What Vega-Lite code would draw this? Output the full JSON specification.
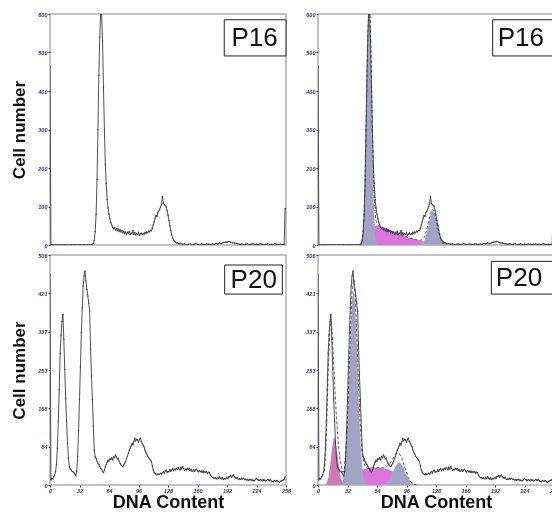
{
"$schema": "https://vega.github.io/schema/vega-lite/v6.json",
"background": "white",
"padding": {"left": 10, "top": 11, "right": 0, "bottom": 0},
"spacing": 2,
"datasets": {
"p16": [{"ch":0,"n":465},{"ch":1,"n":1},{"ch":3,"n":0},{"ch":5,"n":1},{"ch":7,"n":0},{"ch":9,"n":1},{"ch":11,"n":0},{"ch":13,"n":1},{"ch":15,"n":0},{"ch":17,"n":1},{"ch":19,"n":0},{"ch":21,"n":0},{"ch":23,"n":1},{"ch":25,"n":0},{"ch":27,"n":1},{"ch":29,"n":0},{"ch":31,"n":0},{"ch":33,"n":1},{"ch":35,"n":0},{"ch":37,"n":1},{"ch":39,"n":0},{"ch":41,"n":1},{"ch":43,"n":0},{"ch":45,"n":1},{"ch":46,"n":2},{"ch":47,"n":4},{"ch":48,"n":12},{"ch":49,"n":35},{"ch":50,"n":80},{"ch":51,"n":170},{"ch":52,"n":300},{"ch":53,"n":440},{"ch":54,"n":540},{"ch":55,"n":610},{"ch":56,"n":600},{"ch":57,"n":530},{"ch":58,"n":410},{"ch":59,"n":300},{"ch":60,"n":210},{"ch":61,"n":160},{"ch":62,"n":118},{"ch":63,"n":96},{"ch":64,"n":80},{"ch":65,"n":68},{"ch":66,"n":58},{"ch":67,"n":52},{"ch":68,"n":46},{"ch":69,"n":42},{"ch":70,"n":45},{"ch":71,"n":39},{"ch":72,"n":43},{"ch":73,"n":37},{"ch":74,"n":42},{"ch":75,"n":35},{"ch":76,"n":40},{"ch":77,"n":34},{"ch":78,"n":38},{"ch":79,"n":31},{"ch":80,"n":36},{"ch":81,"n":30},{"ch":82,"n":34},{"ch":83,"n":28},{"ch":84,"n":33},{"ch":85,"n":29},{"ch":86,"n":36},{"ch":87,"n":27},{"ch":88,"n":31},{"ch":89,"n":29},{"ch":90,"n":38},{"ch":91,"n":27},{"ch":92,"n":32},{"ch":93,"n":26},{"ch":94,"n":30},{"ch":95,"n":27},{"ch":96,"n":33},{"ch":97,"n":25},{"ch":98,"n":29},{"ch":99,"n":31},{"ch":100,"n":27},{"ch":101,"n":30},{"ch":102,"n":28},{"ch":103,"n":33},{"ch":104,"n":30},{"ch":105,"n":34},{"ch":106,"n":32},{"ch":107,"n":36},{"ch":108,"n":34},{"ch":109,"n":38},{"ch":110,"n":37},{"ch":111,"n":43},{"ch":112,"n":52},{"ch":113,"n":60},{"ch":114,"n":70},{"ch":115,"n":77},{"ch":116,"n":74},{"ch":117,"n":84},{"ch":118,"n":88},{"ch":119,"n":93},{"ch":120,"n":99},{"ch":121,"n":106},{"ch":122,"n":126},{"ch":123,"n":108},{"ch":124,"n":105},{"ch":125,"n":103},{"ch":126,"n":99},{"ch":127,"n":90},{"ch":128,"n":78},{"ch":129,"n":64},{"ch":130,"n":50},{"ch":131,"n":38},{"ch":132,"n":27},{"ch":133,"n":19},{"ch":134,"n":13},{"ch":135,"n":10},{"ch":136,"n":8},{"ch":137,"n":5},{"ch":138,"n":6},{"ch":139,"n":4},{"ch":140,"n":3},{"ch":142,"n":4},{"ch":144,"n":2},{"ch":146,"n":3},{"ch":148,"n":1},{"ch":150,"n":2},{"ch":152,"n":3},{"ch":154,"n":1},{"ch":156,"n":2},{"ch":158,"n":4},{"ch":160,"n":2},{"ch":162,"n":1},{"ch":164,"n":3},{"ch":166,"n":2},{"ch":168,"n":1},{"ch":170,"n":3},{"ch":172,"n":2},{"ch":174,"n":1},{"ch":176,"n":3},{"ch":178,"n":2},{"ch":180,"n":4},{"ch":182,"n":3},{"ch":184,"n":5},{"ch":186,"n":4},{"ch":188,"n":6},{"ch":190,"n":7},{"ch":192,"n":8},{"ch":194,"n":9},{"ch":196,"n":7},{"ch":198,"n":6},{"ch":200,"n":5},{"ch":202,"n":4},{"ch":204,"n":3},{"ch":206,"n":2},{"ch":208,"n":3},{"ch":210,"n":1},{"ch":212,"n":2},{"ch":214,"n":3},{"ch":216,"n":1},{"ch":218,"n":2},{"ch":220,"n":3},{"ch":222,"n":1},{"ch":224,"n":2},{"ch":226,"n":1},{"ch":228,"n":3},{"ch":230,"n":2},{"ch":232,"n":1},{"ch":234,"n":2},{"ch":236,"n":3},{"ch":238,"n":1},{"ch":240,"n":2},{"ch":242,"n":1},{"ch":244,"n":3},{"ch":246,"n":2},{"ch":248,"n":1},{"ch":250,"n":2},{"ch":252,"n":1},{"ch":254,"n":2},{"ch":255,"n":95}],
"p20": [{"ch":0,"n":464},{"ch":1,"n":11},{"ch":2,"n":15},{"ch":3,"n":13},{"ch":4,"n":18},{"ch":5,"n":22},{"ch":6,"n":29},{"ch":7,"n":45},{"ch":8,"n":81},{"ch":9,"n":140},{"ch":10,"n":210},{"ch":11,"n":290},{"ch":12,"n":330},{"ch":13,"n":360},{"ch":14,"n":376},{"ch":15,"n":320},{"ch":16,"n":254},{"ch":17,"n":190},{"ch":18,"n":140},{"ch":19,"n":92},{"ch":20,"n":60},{"ch":21,"n":40},{"ch":22,"n":35},{"ch":23,"n":33},{"ch":24,"n":30},{"ch":25,"n":29},{"ch":26,"n":27},{"ch":27,"n":24},{"ch":28,"n":20},{"ch":29,"n":30},{"ch":30,"n":63},{"ch":31,"n":120},{"ch":32,"n":188},{"ch":33,"n":260},{"ch":34,"n":335},{"ch":35,"n":390},{"ch":36,"n":438},{"ch":37,"n":460},{"ch":38,"n":471},{"ch":39,"n":449},{"ch":40,"n":430},{"ch":41,"n":416},{"ch":42,"n":400},{"ch":43,"n":383},{"ch":44,"n":300},{"ch":45,"n":240},{"ch":46,"n":188},{"ch":47,"n":130},{"ch":48,"n":77},{"ch":49,"n":62},{"ch":50,"n":59},{"ch":51,"n":52},{"ch":52,"n":48},{"ch":53,"n":45},{"ch":54,"n":41},{"ch":55,"n":37},{"ch":56,"n":34},{"ch":57,"n":30},{"ch":58,"n":27},{"ch":59,"n":33},{"ch":60,"n":40},{"ch":61,"n":45},{"ch":62,"n":50},{"ch":63,"n":55},{"ch":64,"n":52},{"ch":65,"n":58},{"ch":66,"n":56},{"ch":67,"n":60},{"ch":68,"n":55},{"ch":69,"n":63},{"ch":70,"n":60},{"ch":71,"n":66},{"ch":72,"n":62},{"ch":73,"n":57},{"ch":74,"n":59},{"ch":75,"n":52},{"ch":76,"n":48},{"ch":77,"n":44},{"ch":78,"n":42},{"ch":79,"n":40},{"ch":80,"n":44},{"ch":81,"n":48},{"ch":82,"n":52},{"ch":83,"n":58},{"ch":84,"n":63},{"ch":85,"n":70},{"ch":86,"n":76},{"ch":87,"n":81},{"ch":88,"n":86},{"ch":89,"n":92},{"ch":90,"n":88},{"ch":91,"n":96},{"ch":92,"n":103},{"ch":93,"n":97},{"ch":94,"n":101},{"ch":95,"n":99},{"ch":96,"n":94},{"ch":97,"n":100},{"ch":98,"n":103},{"ch":99,"n":96},{"ch":100,"n":92},{"ch":101,"n":88},{"ch":102,"n":84},{"ch":103,"n":77},{"ch":104,"n":72},{"ch":105,"n":68},{"ch":106,"n":63},{"ch":107,"n":60},{"ch":108,"n":58},{"ch":109,"n":55},{"ch":110,"n":52},{"ch":111,"n":42},{"ch":112,"n":33},{"ch":113,"n":28},{"ch":114,"n":25},{"ch":115,"n":24},{"ch":116,"n":22},{"ch":117,"n":25},{"ch":118,"n":23},{"ch":119,"n":24},{"ch":120,"n":26},{"ch":121,"n":24},{"ch":122,"n":27},{"ch":123,"n":30},{"ch":124,"n":26},{"ch":125,"n":31},{"ch":126,"n":33},{"ch":127,"n":28},{"ch":128,"n":30},{"ch":129,"n":29},{"ch":130,"n":34},{"ch":131,"n":30},{"ch":132,"n":33},{"ch":133,"n":36},{"ch":134,"n":31},{"ch":135,"n":35},{"ch":136,"n":33},{"ch":137,"n":37},{"ch":138,"n":34},{"ch":139,"n":38},{"ch":140,"n":36},{"ch":141,"n":33},{"ch":142,"n":39},{"ch":143,"n":35},{"ch":144,"n":40},{"ch":145,"n":36},{"ch":146,"n":32},{"ch":147,"n":35},{"ch":148,"n":33},{"ch":149,"n":37},{"ch":150,"n":34},{"ch":151,"n":37},{"ch":152,"n":32},{"ch":153,"n":35},{"ch":154,"n":30},{"ch":155,"n":31},{"ch":156,"n":34},{"ch":157,"n":30},{"ch":158,"n":33},{"ch":159,"n":35},{"ch":160,"n":31},{"ch":161,"n":29},{"ch":162,"n":32},{"ch":163,"n":29},{"ch":164,"n":31},{"ch":165,"n":28},{"ch":166,"n":31},{"ch":167,"n":27},{"ch":168,"n":30},{"ch":169,"n":28},{"ch":170,"n":29},{"ch":171,"n":26},{"ch":172,"n":28},{"ch":173,"n":27},{"ch":174,"n":22},{"ch":175,"n":19},{"ch":176,"n":16},{"ch":177,"n":17},{"ch":178,"n":14},{"ch":179,"n":16},{"ch":180,"n":15},{"ch":181,"n":13},{"ch":182,"n":17},{"ch":183,"n":14},{"ch":184,"n":18},{"ch":185,"n":15},{"ch":186,"n":13},{"ch":187,"n":16},{"ch":188,"n":12},{"ch":189,"n":14},{"ch":190,"n":13},{"ch":191,"n":15},{"ch":192,"n":17},{"ch":193,"n":14},{"ch":194,"n":19},{"ch":195,"n":18},{"ch":196,"n":21},{"ch":197,"n":17},{"ch":198,"n":20},{"ch":199,"n":22},{"ch":200,"n":18},{"ch":201,"n":16},{"ch":202,"n":15},{"ch":203,"n":17},{"ch":204,"n":13},{"ch":205,"n":12},{"ch":206,"n":14},{"ch":207,"n":12},{"ch":208,"n":15},{"ch":209,"n":13},{"ch":210,"n":15},{"ch":211,"n":12},{"ch":212,"n":13},{"ch":213,"n":11},{"ch":214,"n":12},{"ch":215,"n":10},{"ch":216,"n":12},{"ch":217,"n":11},{"ch":218,"n":13},{"ch":219,"n":10},{"ch":220,"n":11},{"ch":221,"n":9},{"ch":222,"n":10},{"ch":223,"n":13},{"ch":224,"n":14},{"ch":225,"n":12},{"ch":226,"n":11},{"ch":227,"n":10},{"ch":228,"n":12},{"ch":229,"n":11},{"ch":230,"n":9},{"ch":231,"n":12},{"ch":232,"n":10},{"ch":233,"n":11},{"ch":234,"n":9},{"ch":235,"n":10},{"ch":236,"n":12},{"ch":237,"n":11},{"ch":238,"n":10},{"ch":239,"n":12},{"ch":240,"n":9},{"ch":241,"n":8},{"ch":242,"n":7},{"ch":243,"n":9},{"ch":244,"n":10},{"ch":245,"n":8},{"ch":246,"n":10},{"ch":247,"n":9},{"ch":248,"n":7},{"ch":249,"n":6},{"ch":250,"n":8},{"ch":251,"n":9},{"ch":252,"n":10},{"ch":253,"n":11},{"ch":254,"n":12},{"ch":255,"n":18}],
"c16": [{"comp":"S","ch":48,"v":0},{"comp":"S","ch":49,"v":1},{"comp":"S","ch":50,"v":3},{"comp":"S","ch":51,"v":6},{"comp":"S","ch":52,"v":10},{"comp":"S","ch":53,"v":15},{"comp":"S","ch":54,"v":20},{"comp":"S","ch":55,"v":25},{"comp":"S","ch":56,"v":30},{"comp":"S","ch":57,"v":34},{"comp":"S","ch":58,"v":38},{"comp":"S","ch":59,"v":42},{"comp":"S","ch":60,"v":45},{"comp":"S","ch":61,"v":47},{"comp":"S","ch":62,"v":49},{"comp":"S","ch":63,"v":50},{"comp":"S","ch":64,"v":51},{"comp":"S","ch":65,"v":50},{"comp":"S","ch":66,"v":49},{"comp":"S","ch":70,"v":45},{"comp":"S","ch":75,"v":40},{"comp":"S","ch":80,"v":35},{"comp":"S","ch":85,"v":30},{"comp":"S","ch":90,"v":26},{"comp":"S","ch":95,"v":22},{"comp":"S","ch":100,"v":18},{"comp":"S","ch":105,"v":15},{"comp":"S","ch":110,"v":12},{"comp":"S","ch":115,"v":9},{"comp":"S","ch":120,"v":6},{"comp":"S","ch":125,"v":3},{"comp":"S","ch":128,"v":1},{"comp":"S","ch":130,"v":0},
{"comp":"G1","ch":46,"v":0},{"comp":"G1","ch":47,"v":4},{"comp":"G1","ch":48,"v":13},{"comp":"G1","ch":49,"v":33},{"comp":"G1","ch":50,"v":75},{"comp":"G1","ch":51,"v":149},{"comp":"G1","ch":52,"v":259},{"comp":"G1","ch":53,"v":390},{"comp":"G1","ch":54,"v":514},{"comp":"G1","ch":55,"v":590},{"comp":"G1","ch":55.5,"v":600},{"comp":"G1","ch":56,"v":590},{"comp":"G1","ch":57,"v":514},{"comp":"G1","ch":58,"v":390},{"comp":"G1","ch":59,"v":259},{"comp":"G1","ch":60,"v":149},{"comp":"G1","ch":61,"v":75},{"comp":"G1","ch":62,"v":33},{"comp":"G1","ch":63,"v":13},{"comp":"G1","ch":64,"v":4},{"comp":"G1","ch":65,"v":1},{"comp":"G1","ch":66,"v":0},
{"comp":"G2","ch":110,"v":0},{"comp":"G2","ch":112,"v":2},{"comp":"G2","ch":114,"v":6},{"comp":"G2","ch":116,"v":15},{"comp":"G2","ch":118,"v":32},{"comp":"G2","ch":120,"v":55},{"comp":"G2","ch":122,"v":77},{"comp":"G2","ch":124,"v":89},{"comp":"G2","ch":126,"v":85},{"comp":"G2","ch":128,"v":67},{"comp":"G2","ch":130,"v":43},{"comp":"G2","ch":132,"v":22},{"comp":"G2","ch":134,"v":10},{"comp":"G2","ch":136,"v":3},{"comp":"G2","ch":138,"v":0}],
"f16": [{"ch":44,"v":0},{"ch":46,"v":0},{"ch":47,"v":4},{"ch":48,"v":13},{"ch":49,"v":34},{"ch":50,"v":78},{"ch":51,"v":155},{"ch":52,"v":269},{"ch":53,"v":405},{"ch":54,"v":534},{"ch":55,"v":615},{"ch":56,"v":620},{"ch":57,"v":548},{"ch":58,"v":428},{"ch":59,"v":301},{"ch":60,"v":194},{"ch":61,"v":122},{"ch":62,"v":82},{"ch":63,"v":63},{"ch":64,"v":55},{"ch":65,"v":51},{"ch":66,"v":49},{"ch":68,"v":47},{"ch":70,"v":45},{"ch":75,"v":40},{"ch":80,"v":35},{"ch":85,"v":30},{"ch":90,"v":26},{"ch":95,"v":22},{"ch":100,"v":18},{"ch":105,"v":15},{"ch":110,"v":12},{"ch":112,"v":13},{"ch":114,"v":16},{"ch":116,"v":23},{"ch":118,"v":39},{"ch":120,"v":61},{"ch":122,"v":82},{"ch":124,"v":93},{"ch":126,"v":88},{"ch":128,"v":68},{"ch":130,"v":43},{"ch":132,"v":22},{"ch":134,"v":10},{"ch":136,"v":3},{"ch":138,"v":0},{"ch":140,"v":0}],
"c20": [{"comp":"S","ch":28,"v":0},{"comp":"S","ch":29,"v":2},{"comp":"S","ch":30,"v":4},{"comp":"S","ch":31,"v":7},{"comp":"S","ch":32,"v":10},{"comp":"S","ch":33,"v":12},{"comp":"S","ch":35,"v":17},{"comp":"S","ch":37,"v":21},{"comp":"S","ch":40,"v":25},{"comp":"S","ch":42,"v":28},{"comp":"S","ch":44,"v":30},{"comp":"S","ch":46,"v":32},{"comp":"S","ch":48,"v":33.5},{"comp":"S","ch":50,"v":35},{"comp":"S","ch":52,"v":36},{"comp":"S","ch":55,"v":37},{"comp":"S","ch":60,"v":38},{"comp":"S","ch":65,"v":38},{"comp":"S","ch":70,"v":37},{"comp":"S","ch":75,"v":35},{"comp":"S","ch":80,"v":31},{"comp":"S","ch":84,"v":27},{"comp":"S","ch":86,"v":23},{"comp":"S","ch":88,"v":20},{"comp":"S","ch":90,"v":16},{"comp":"S","ch":92,"v":12},{"comp":"S","ch":94,"v":8},{"comp":"S","ch":96,"v":4},{"comp":"S","ch":98,"v":2},{"comp":"S","ch":100,"v":0},
{"comp":"A","ch":8,"v":0},{"comp":"A","ch":9,"v":3},{"comp":"A","ch":11,"v":13},{"comp":"A","ch":13,"v":39},{"comp":"A","ch":15,"v":77},{"comp":"A","ch":17,"v":104},{"comp":"A","ch":18,"v":104},{"comp":"A","ch":20,"v":84},{"comp":"A","ch":22,"v":52},{"comp":"A","ch":24,"v":24},{"comp":"A","ch":26,"v":9},{"comp":"A","ch":28,"v":2},{"comp":"A","ch":30,"v":0},
{"comp":"G1","ch":25,"v":0},{"comp":"G1","ch":27,"v":12},{"comp":"G1","ch":29,"v":37},{"comp":"G1","ch":31,"v":94},{"comp":"G1","ch":33,"v":190},{"comp":"G1","ch":35,"v":309},{"comp":"G1","ch":37,"v":404},{"comp":"G1","ch":38.5,"v":430},{"comp":"G1","ch":40,"v":404},{"comp":"G1","ch":42,"v":309},{"comp":"G1","ch":44,"v":190},{"comp":"G1","ch":46,"v":94},{"comp":"G1","ch":48,"v":37},{"comp":"G1","ch":50,"v":12},{"comp":"G1","ch":52,"v":3},{"comp":"G1","ch":54,"v":0},
{"comp":"G2","ch":68,"v":0},{"comp":"G2","ch":70,"v":1},{"comp":"G2","ch":72,"v":2},{"comp":"G2","ch":75,"v":6},{"comp":"G2","ch":78,"v":14},{"comp":"G2","ch":81,"v":27},{"comp":"G2","ch":84,"v":41},{"comp":"G2","ch":86,"v":47.5},{"comp":"G2","ch":88,"v":50},{"comp":"G2","ch":90,"v":47.5},{"comp":"G2","ch":92,"v":41},{"comp":"G2","ch":95,"v":27},{"comp":"G2","ch":98,"v":14},{"comp":"G2","ch":101,"v":6},{"comp":"G2","ch":104,"v":2},{"comp":"G2","ch":107,"v":0}],
"f20": [{"ch":7,"v":30},{"ch":9,"v":100},{"ch":11,"v":250},{"ch":13,"v":350},{"ch":14,"v":365},{"ch":15,"v":345},{"ch":17,"v":270},{"ch":18,"v":225},{"ch":20,"v":150},{"ch":22,"v":90},{"ch":24,"v":55},{"ch":26,"v":35},{"ch":27,"v":28},{"ch":28,"v":30},{"ch":29,"v":42},{"ch":30,"v":65},{"ch":31,"v":101},{"ch":32,"v":147},{"ch":33,"v":202},{"ch":35,"v":326},{"ch":37,"v":425},{"ch":38.5,"v":453},{"ch":40,"v":429},{"ch":42,"v":337},{"ch":44,"v":220},{"ch":46,"v":126},{"ch":48,"v":70},{"ch":50,"v":47},{"ch":52,"v":39},{"ch":54,"v":36.5},{"ch":56,"v":37},{"ch":60,"v":38},{"ch":65,"v":38},{"ch":70,"v":38},{"ch":72,"v":38},{"ch":75,"v":41},{"ch":78,"v":47},{"ch":81,"v":57},{"ch":84,"v":68},{"ch":86,"v":70},{"ch":88,"v":70},{"ch":90,"v":63},{"ch":92,"v":53},{"ch":95,"v":33},{"ch":98,"v":16},{"ch":101,"v":6},{"ch":104,"v":2},{"ch":107,"v":0}]
},
"vconcat": [
{"hconcat": [
 {"width": 236, "height": 231, "layer": [
  {"data": {"name": "p16"}, "mark": {"type": "line", "color": "#3c3c3c", "strokeWidth": 0.9, "clip": true, "point": {"filled": true, "size": 2, "color": "#3c3c3c"}},
   "encoding": {"x": {"field": "ch", "type": "quantitative", "scale": {"domain": [0, 256], "nice": false, "zero": false}, "axis": null},
    "y": {"field": "n", "type": "quantitative", "scale": {"domain": [0, 600], "nice": false}, "axis": {"values": [0, 100, 200, 300, 400, 500, 600], "title": "Cell number", "titleFontSize": 17, "titlePadding": 9}}}},
  {"data": {"values": [{}]}, "mark": {"type": "rect", "fill": "white", "stroke": "#222222", "strokeWidth": 1},
   "encoding": {"x": {"datum": 189, "type": "quantitative", "scale": {"domain": [0, 256], "nice": false, "zero": false}, "axis": null}, "x2": {"datum": 256}, "y": {"datum": 491, "type": "quantitative", "scale": {"domain": [0, 600], "nice": false}, "axis": {"values": [0, 100, 200, 300, 400, 500, 600], "title": "Cell number", "titleFontSize": 17, "titlePadding": 9}}, "y2": {"datum": 585}}},
  {"data": {"values": [{}]}, "mark": {"type": "text", "font": "Liberation Sans", "fontSize": 26, "color": "#111111", "text": "P16"},
   "encoding": {"x": {"datum": 222, "type": "quantitative", "scale": {"domain": [0, 256], "nice": false, "zero": false}, "axis": null}, "y": {"datum": 538, "type": "quantitative", "scale": {"domain": [0, 600], "nice": false}, "axis": {"values": [0, 100, 200, 300, 400, 500, 600], "title": "Cell number", "titleFontSize": 17, "titlePadding": 9}}}}
 ]},
 {"width": 236, "height": 231, "layer": [
  {"data": {"name": "c16"}, "mark": {"type": "area", "blend": "multiply", "clip": true, "opacity": 1},
   "encoding": {"x": {"field": "ch", "type": "quantitative", "scale": {"domain": [0, 256], "nice": false, "zero": false}, "axis": null},
    "y": {"field": "v", "type": "quantitative", "stack": null, "scale": {"domain": [0, 600], "nice": false}, "axis": {"values": [0, 100, 200, 300, 400, 500, 600], "title": null}},
    "color": {"field": "comp", "type": "nominal", "scale": {"domain": ["S", "G1", "G2", "A"], "range": ["#dc74dc", "#a0a5c6", "#a0a5c6", "#cc7ab8"]}, "legend": null}}},
  {"data": {"name": "f16"}, "mark": {"type": "line", "color": "#333333", "strokeWidth": 0.8, "strokeDash": [3, 2], "clip": true},
   "encoding": {"x": {"field": "ch", "type": "quantitative", "scale": {"domain": [0, 256], "nice": false, "zero": false}, "axis": null},
    "y": {"field": "v", "type": "quantitative", "scale": {"domain": [0, 600], "nice": false}, "axis": {"values": [0, 100, 200, 300, 400, 500, 600], "title": null}}}},
  {"data": {"name": "p16"}, "mark": {"type": "line", "color": "#3c3c3c", "strokeWidth": 0.9, "clip": true, "point": {"filled": true, "size": 2, "color": "#3c3c3c"}},
   "encoding": {"x": {"field": "ch", "type": "quantitative", "scale": {"domain": [0, 256], "nice": false, "zero": false}, "axis": null},
    "y": {"field": "n", "type": "quantitative", "scale": {"domain": [0, 600], "nice": false}, "axis": {"values": [0, 100, 200, 300, 400, 500, 600], "title": null}}}},
  {"data": {"values": [{}]}, "mark": {"type": "rect", "fill": "white", "stroke": "#222222", "strokeWidth": 1},
   "encoding": {"x": {"datum": 189.5, "type": "quantitative", "scale": {"domain": [0, 256], "nice": false, "zero": false}, "axis": null}, "x2": {"datum": 256}, "y": {"datum": 491, "type": "quantitative", "scale": {"domain": [0, 600], "nice": false}, "axis": {"values": [0, 100, 200, 300, 400, 500, 600], "title": null}}, "y2": {"datum": 585}}},
  {"data": {"values": [{}]}, "mark": {"type": "text", "font": "Liberation Sans", "fontSize": 26, "color": "#111111", "text": "P16"},
   "encoding": {"x": {"datum": 220, "type": "quantitative", "scale": {"domain": [0, 256], "nice": false, "zero": false}, "axis": null}, "y": {"datum": 538, "type": "quantitative", "scale": {"domain": [0, 600], "nice": false}, "axis": {"values": [0, 100, 200, 300, 400, 500, 600], "title": null}}}}
 ]}
], "spacing": 32, "bounds": "flush"},
{"hconcat": [
 {"width": 236, "height": 230, "layer": [
  {"data": {"name": "p20"}, "mark": {"type": "line", "color": "#3c3c3c", "strokeWidth": 0.9, "clip": true, "point": {"filled": true, "size": 2, "color": "#3c3c3c"}},
   "encoding": {"x": {"field": "ch", "type": "quantitative", "scale": {"domain": [0, 256], "nice": false, "zero": false}, "axis": {"values": [0, 32, 64, 96, 128, 160, 192, 224, 256], "title": "DNA Content", "titleFontSize": 18, "titlePadding": 0}},
    "y": {"field": "n", "type": "quantitative", "scale": {"domain": [0, 506], "nice": false}, "axis": {"values": [0, 84.333, 168.667, 253, 337.333, 421.667, 506], "labelExpr": "floor(datum.value)", "title": "Cell number", "titleFontSize": 17, "titlePadding": 9}}}},
  {"data": {"values": [{}]}, "mark": {"type": "rect", "fill": "white", "stroke": "#222222", "strokeWidth": 1},
   "encoding": {"x": {"datum": 189.5, "type": "quantitative", "scale": {"domain": [0, 256], "nice": false, "zero": false}, "axis": {"values": [0, 32, 64, 96, 128, 160, 192, 224, 256], "title": "DNA Content", "titleFontSize": 18, "titlePadding": 0}}, "x2": {"datum": 252}, "y": {"datum": 420, "type": "quantitative", "scale": {"domain": [0, 506], "nice": false}, "axis": {"values": [0, 84.333, 168.667, 253, 337.333, 421.667, 506], "labelExpr": "floor(datum.value)", "title": "Cell number", "titleFontSize": 17, "titlePadding": 9}}, "y2": {"datum": 484}}},
  {"data": {"values": [{}]}, "mark": {"type": "text", "font": "Liberation Sans", "fontSize": 26, "color": "#111111", "text": "P20"},
   "encoding": {"x": {"datum": 221, "type": "quantitative", "scale": {"domain": [0, 256], "nice": false, "zero": false}, "axis": {"values": [0, 32, 64, 96, 128, 160, 192, 224, 256], "title": "DNA Content", "titleFontSize": 18, "titlePadding": 0}}, "y": {"datum": 451, "type": "quantitative", "scale": {"domain": [0, 506], "nice": false}, "axis": {"values": [0, 84.333, 168.667, 253, 337.333, 421.667, 506], "labelExpr": "floor(datum.value)", "title": "Cell number", "titleFontSize": 17, "titlePadding": 9}}}}
 ]},
 {"width": 236, "height": 230, "layer": [
  {"data": {"name": "c20"}, "mark": {"type": "area", "blend": "multiply", "clip": true, "opacity": 1},
   "encoding": {"x": {"field": "ch", "type": "quantitative", "scale": {"domain": [0, 256], "nice": false, "zero": false}, "axis": {"values": [0, 32, 64, 96, 128, 160, 192, 224, 256], "title": "DNA Content", "titleFontSize": 18, "titlePadding": 0}},
    "y": {"field": "v", "type": "quantitative", "stack": null, "scale": {"domain": [0, 506], "nice": false}, "axis": {"values": [0, 84.333, 168.667, 253, 337.333, 421.667, 506], "labelExpr": "floor(datum.value)", "title": null}},
    "color": {"field": "comp", "type": "nominal", "scale": {"domain": ["S", "G1", "G2", "A"], "range": ["#dc74dc", "#a0a5c6", "#a0a5c6", "#cc7ab8"]}, "legend": null}}},
  {"data": {"name": "f20"}, "mark": {"type": "line", "color": "#333333", "strokeWidth": 0.8, "strokeDash": [3, 2], "clip": true},
   "encoding": {"x": {"field": "ch", "type": "quantitative", "scale": {"domain": [0, 256], "nice": false, "zero": false}, "axis": {"values": [0, 32, 64, 96, 128, 160, 192, 224, 256], "title": "DNA Content", "titleFontSize": 18, "titlePadding": 0}},
    "y": {"field": "v", "type": "quantitative", "scale": {"domain": [0, 506], "nice": false}, "axis": {"values": [0, 84.333, 168.667, 253, 337.333, 421.667, 506], "labelExpr": "floor(datum.value)", "title": null}}}},
  {"data": {"name": "p20"}, "mark": {"type": "line", "color": "#3c3c3c", "strokeWidth": 0.9, "clip": true, "point": {"filled": true, "size": 2, "color": "#3c3c3c"}},
   "encoding": {"x": {"field": "ch", "type": "quantitative", "scale": {"domain": [0, 256], "nice": false, "zero": false}, "axis": {"values": [0, 32, 64, 96, 128, 160, 192, 224, 256], "title": "DNA Content", "titleFontSize": 18, "titlePadding": 0}},
    "y": {"field": "n", "type": "quantitative", "scale": {"domain": [0, 506], "nice": false}, "axis": {"values": [0, 84.333, 168.667, 253, 337.333, 421.667, 506], "labelExpr": "floor(datum.value)", "title": null}}}},
  {"data": {"values": [{}]}, "mark": {"type": "rect", "fill": "white", "stroke": "#222222", "strokeWidth": 1},
   "encoding": {"x": {"datum": 188, "type": "quantitative", "scale": {"domain": [0, 256], "nice": false, "zero": false}, "axis": {"values": [0, 32, 64, 96, 128, 160, 192, 224, 256], "title": "DNA Content", "titleFontSize": 18, "titlePadding": 0}}, "x2": {"datum": 256}, "y": {"datum": 420, "type": "quantitative", "scale": {"domain": [0, 506], "nice": false}, "axis": {"values": [0, 84.333, 168.667, 253, 337.333, 421.667, 506], "labelExpr": "floor(datum.value)", "title": null}}, "y2": {"datum": 492}}},
  {"data": {"values": [{}]}, "mark": {"type": "text", "font": "Liberation Sans", "fontSize": 26, "color": "#111111", "text": "P20"},
   "encoding": {"x": {"datum": 218, "type": "quantitative", "scale": {"domain": [0, 256], "nice": false, "zero": false}, "axis": {"values": [0, 32, 64, 96, 128, 160, 192, 224, 256], "title": "DNA Content", "titleFontSize": 18, "titlePadding": 0}}, "y": {"datum": 456, "type": "quantitative", "scale": {"domain": [0, 506], "nice": false}, "axis": {"values": [0, 84.333, 168.667, 253, 337.333, 421.667, 506], "labelExpr": "floor(datum.value)", "title": null}}}}
 ]}
], "spacing": 32, "bounds": "flush"}
],
"config": {
 "view": {"stroke": "#b0b0b0", "strokeWidth": 1.5},
 "axis": {"domain": false, "grid": false, "labelFont": "Liberation Sans", "labelFontSize": 5.5, "labelFontStyle": "italic", "labelFontWeight": "bold", "labelColor": "#303088", "tickColor": "#303088", "tickSize": 2, "labelPadding": 1, "titleFont": "Liberation Sans", "titleFontWeight": "bold", "titleColor": "#111111", "labelOverlap": false},
 "axisX": {"labelFlush": false}
}
}
